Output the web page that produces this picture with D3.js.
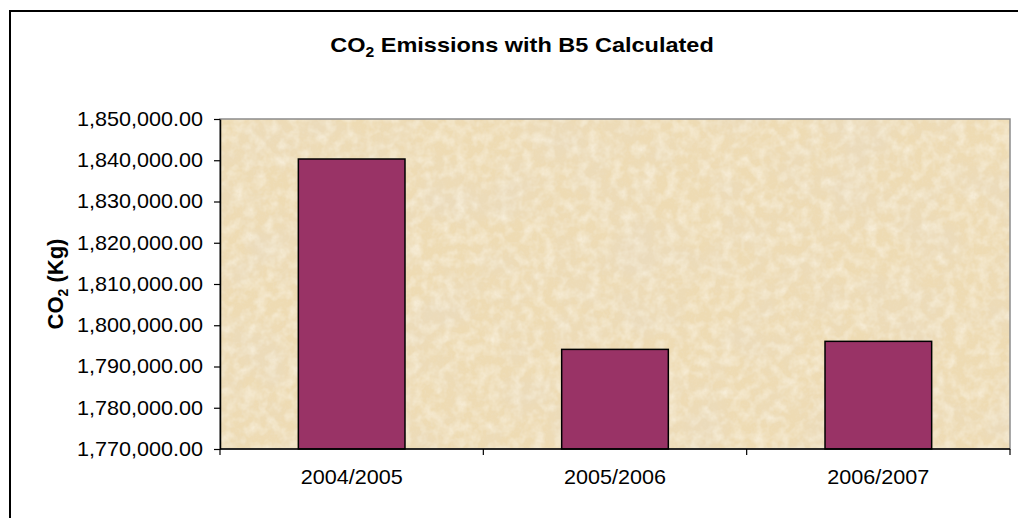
<!DOCTYPE html>
<html>
<head>
<meta charset="utf-8">
<script src="https://cdn.jsdelivr.net/npm/d3@7"></script>
<style>
  html, body { margin: 0; padding: 0; background: #fff; }
  svg { display: block; font-family: "Liberation Sans", Arial, sans-serif; }
</style>
</head>
<body>
<svg id="chart" width="1018" height="518"></svg>
<script>
// Seasons and calculated CO2 output (kg) with B5 biodiesel
const seasons = ["2004/2005", "2005/2006", "2006/2007"];
const emissions = [1840300, 1794150, 1796100];
const yTicks = [1770000, 1780000, 1790000, 1800000, 1810000, 1820000, 1830000, 1840000, 1850000];

const svg = d3.select("#chart");
const plot = { left: 220, top: 119, right: 1010, bottom: 449 };
const stretch = 1.08; // glyphs are drawn slightly wide

// Parchment-like texture for the plot background
const defs = svg.append("defs");
const f = defs.append("filter").attr("id", "parchment")
  .attr("x", 0).attr("y", 0).attr("width", 1).attr("height", 1);
f.append("feFlood").attr("flood-color", "#eedbb3").attr("result", "base");
f.append("feTurbulence").attr("type", "fractalNoise")
  .attr("baseFrequency", "0.018").attr("numOctaves", 5).attr("seed", 11).attr("result", "noise");
f.append("feColorMatrix").attr("in", "noise").attr("type", "matrix")
  .attr("values", "0 0 0 0 0.83  0 0 0 0 0.71  0 0 0 0 0.5  2.4 0 0 0 -0.95")
  .attr("result", "shade");
f.append("feComposite").attr("in", "shade").attr("in2", "base").attr("operator", "over").attr("result", "mix");
f.append("feTurbulence").attr("type", "fractalNoise")
  .attr("baseFrequency", "0.09").attr("numOctaves", 3).attr("seed", 4).attr("result", "mid");
f.append("feColorMatrix").attr("in", "mid").attr("type", "matrix")
  .attr("values", "0 0 0 0 0.955  0 0 0 0 0.895  0 0 0 0 0.76  1.4 0 0 0 -0.55")
  .attr("result", "light");
f.append("feComposite").attr("in", "light").attr("in2", "mix").attr("operator", "over").attr("result", "mix2");
f.append("feTurbulence").attr("type", "fractalNoise")
  .attr("baseFrequency", "0.45").attr("numOctaves", 2).attr("seed", 3).attr("result", "fine");
f.append("feColorMatrix").attr("in", "fine").attr("type", "matrix")
  .attr("values", "0 0 0 0 0.85  0 0 0 0 0.74  0 0 0 0 0.55  1.0 0 0 0 -0.5")
  .attr("result", "speck");
f.append("feComposite").attr("in", "speck").attr("in2", "mix2").attr("operator", "over").attr("result", "all");
f.append("feComposite").attr("in", "all").attr("in2", "SourceGraphic").attr("operator", "in");

// Outer chart frame (runs past the right and bottom edges)
svg.append("rect")
  .attr("x", 10).attr("y", 11).attr("width", 1030).attr("height", 540)
  .attr("fill", "none").attr("stroke", "#000").attr("stroke-width", 2);

const x = d3.scaleBand().domain(seasons).range([plot.left, plot.right]).paddingInner(0).paddingOuter(0);
const y = d3.scaleLinear().domain([1770000, 1850000]).range([plot.bottom, plot.top]);

svg.append("rect")
  .attr("x", plot.left).attr("y", plot.top)
  .attr("width", plot.right - plot.left).attr("height", plot.bottom - plot.top)
  .attr("fill", "#ecd8ae").attr("filter", "url(#parchment)");
svg.append("rect")
  .attr("x", plot.left).attr("y", plot.top)
  .attr("width", plot.right - plot.left).attr("height", plot.bottom - plot.top)
  .attr("fill", "none").attr("stroke", "#8c8c8c").attr("stroke-width", 1.5);

// Bars
const barW = x.bandwidth() * 0.405;
svg.append("g").selectAll("rect")
  .data(seasons.map((s, i) => ({ s, v: emissions[i] })))
  .join("rect")
  .attr("x", d => x(d.s) + (x.bandwidth() - barW) / 2)
  .attr("y", d => y(d.v))
  .attr("width", barW)
  .attr("height", d => y(1770000) - y(d.v))
  .attr("fill", "#993366")
  .attr("stroke", "#000")
  .attr("stroke-width", 1.5);

// Y axis
const fmt = d3.format(",.2f");
const yAxis = svg.append("g")
  .attr("transform", `translate(${plot.left},0)`)
  .call(d3.axisLeft(y).tickValues(yTicks).tickFormat(fmt).tickSize(6).tickPadding(10).tickSizeOuter(0));
yAxis.select(".domain").attr("stroke", "#000").attr("stroke-width", 1.5);
yAxis.selectAll(".tick line").attr("stroke", "#000").attr("stroke-width", 1.2);
yAxis.selectAll(".tick text")
  .attr("x", -17 / stretch)
  .attr("transform", `scale(${stretch},1)`)
  .attr("font-size", 20).attr("fill", "#000")
  .attr("font-family", "'Liberation Sans', Arial, sans-serif");

// X axis: category separators as ticks
const xAxisG = svg.append("g").attr("transform", `translate(0,${plot.bottom})`);
xAxisG.append("line").attr("x1", plot.left).attr("x2", plot.right)
  .attr("stroke", "#000").attr("stroke-width", 1.5);
const seps = seasons.map(s => x(s)).concat([plot.right]);
xAxisG.selectAll("line.sep").data(seps).join("line").attr("class", "sep")
  .attr("x1", d => d).attr("x2", d => d).attr("y1", 0).attr("y2", 6)
  .attr("stroke", "#000").attr("stroke-width", 1.2);
xAxisG.selectAll("text").data(seasons).join("text")
  .attr("transform", d => `translate(${x(d) + x.bandwidth() / 2},35) scale(${stretch},1)`)
  .attr("text-anchor", "middle")
  .attr("font-size", 20)
  .attr("fill", "#000")
  .text(d => d);

// Title
const title = svg.append("text")
  .attr("transform", "translate(522,52) scale(1.12,1)")
  .attr("text-anchor", "middle")
  .attr("font-size", 21).attr("font-weight", "bold");
title.append("tspan").text("CO");
title.append("tspan").attr("font-size", 14).attr("dy", 5).text("2");
title.append("tspan").attr("dy", -5).text(" Emissions with B5 Calculated");

// Y axis title
const yt = svg.append("text")
  .attr("transform", `translate(63,284) rotate(-90)`)
  .attr("text-anchor", "middle")
  .attr("font-size", 22).attr("font-weight", "bold");
yt.append("tspan").text("CO");
yt.append("tspan").attr("font-size", 14).attr("dy", 5).text("2");
yt.append("tspan").attr("dy", -5).text(" (Kg)");
</script>
</body>
</html>
